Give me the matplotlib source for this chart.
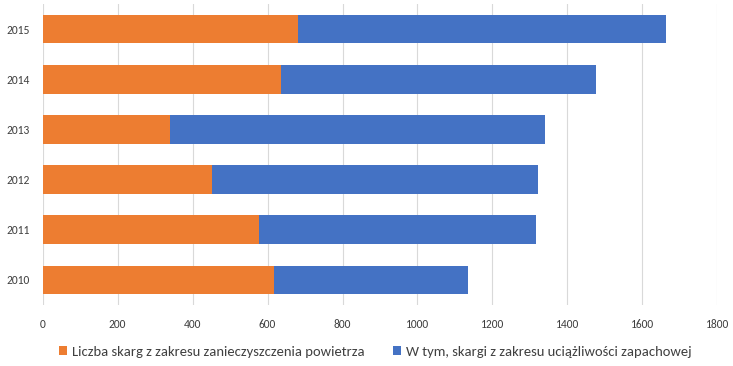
import matplotlib.pyplot as plt
import numpy as np

# Lata (od dołu do góry)
years = ['2010', '2011', '2012', '2013', '2014', '2015']

# Wartości
air_complaints = [617, 576, 451, 339, 635, 680]
odour_complaints = [517, 739, 870, 1000, 840, 982]

labels = ['Liczba skarg z zakresu zanieczyszczenia powietrza',
          'W tym, skargi z zakresu uciążliwości zapachowej']
colors = ['#ED7D31', '#4472C4']

plt.rcParams['font.family'] = ['Carlito', 'Roboto Condensed', 'Open Sans', 'DejaVu Sans']

fig = plt.figure(figsize=(7.33, 3.66), dpi=100)
ax = fig.add_axes([0.0582, 0.1667, 0.9204, 0.8223])

positions = np.arange(len(years))
bar_height = 0.57

ax.barh(positions, air_complaints, bar_height, color=colors[0], label=labels[0], zorder=3)
ax.barh(positions, odour_complaints, bar_height, left=air_complaints,
        color=colors[1], label=labels[1], zorder=3)

ax.set_xlim(0, 1800)
ax.set_ylim(-0.5, len(years) - 0.5)
ax.set_xticks(np.arange(0, 1801, 200))
ax.set_yticks(positions)
ax.set_yticklabels(years)
ax.tick_params(length=0, labelsize=8.3, colors='#404040')
ax.tick_params(axis='x', pad=10)
ax.tick_params(axis='y', pad=9)
ax.grid(axis='x', color='#D9D9D9', linewidth=0.8, zorder=0)
for s in ax.spines.values():
    s.set_visible(False)

ax.legend(loc='center', bbox_to_anchor=(0.493, -0.156), ncol=2, frameon=False,
          fontsize=10.5, handlelength=0.55, handleheight=0.55, handletextpad=0.3,
          columnspacing=2.0, labelcolor='#404040')

fig.savefig('out.png', dpi=100)
